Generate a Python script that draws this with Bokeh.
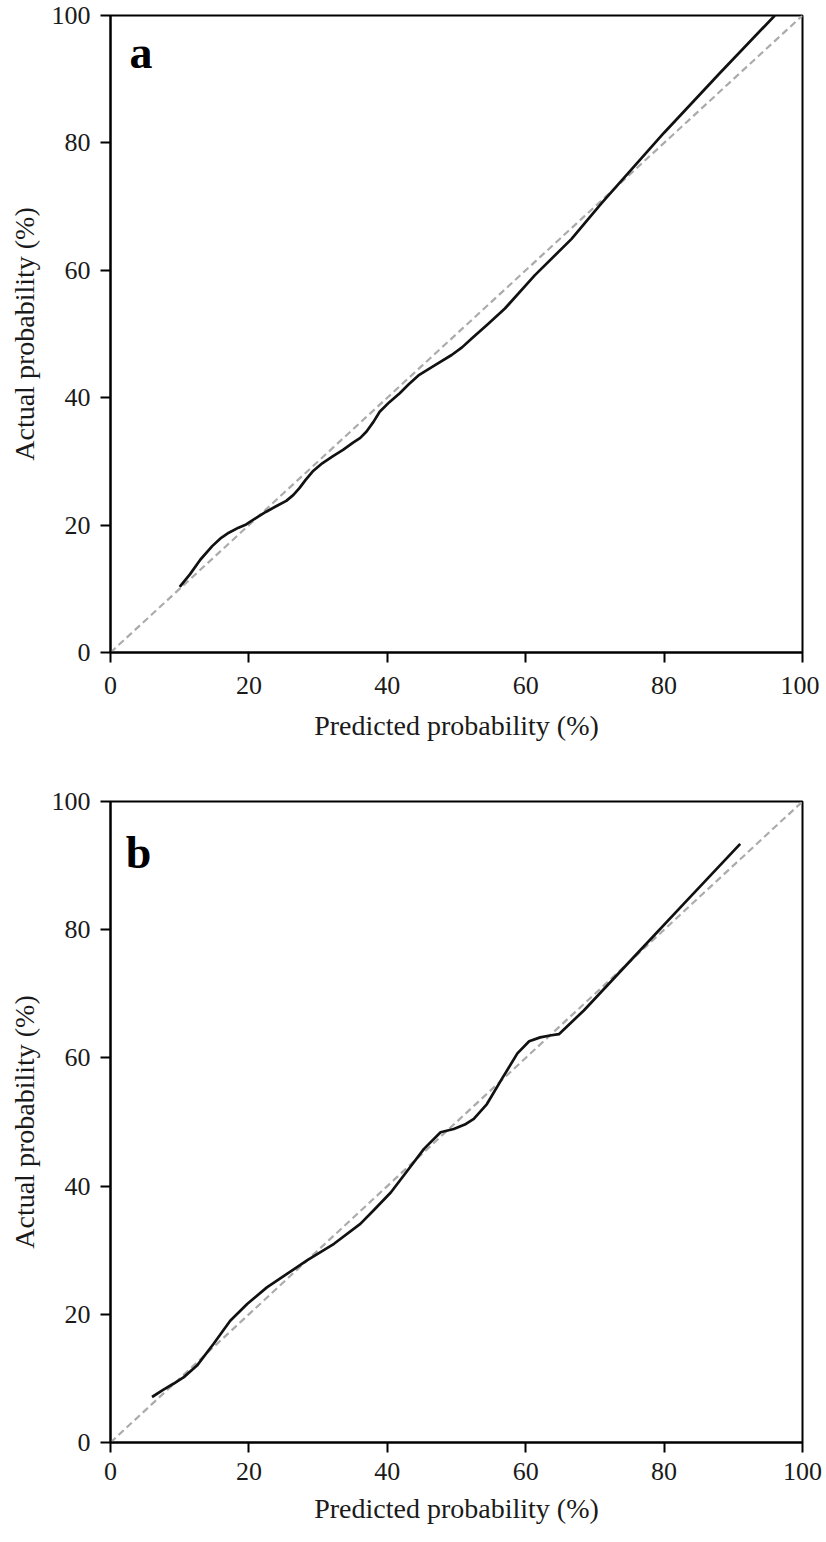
from bokeh.plotting import figure
from bokeh.layouts import column
from bokeh.models import Range1d, FixedTicker, Label
from bokeh.embed import file_html
from bokeh.resources import INLINE

# ---- data ----
pred_a = [10.0, 11.5, 13.0, 14.7, 16.0, 17.1, 18.5, 19.6, 21.0, 22.5, 24.0, 25.4, 26.4,
          27.3, 28.2, 29.2, 30.6, 32.1, 33.6, 35.0, 36.1, 37.0, 38.0, 38.9, 40.3, 41.8,
          43.1, 44.5, 46.9, 49.3, 50.8, 52.2, 54.6, 57.0, 61.3, 66.6, 71.0, 80.0, 88.0, 96.0]
act_a = [10.3, 12.3, 14.6, 16.7, 18.0, 18.8, 19.6, 20.1, 21.1, 22.1, 23.0, 23.8, 24.7,
         25.8, 27.1, 28.4, 29.7, 30.8, 31.8, 32.9, 33.7, 34.7, 36.2, 37.8, 39.3, 40.7,
         42.1, 43.5, 45.1, 46.7, 47.9, 49.3, 51.6, 54.0, 59.2, 64.9, 70.6, 81.6, 90.9, 100.0]

pred_b = [6.0, 7.6, 9.15, 10.6, 12.5, 14.9, 17.3, 19.75, 22.6, 25.5, 28.4, 32.3, 36.1,
          38.0, 40.5, 42.9, 45.3, 47.7, 49.6, 51.2, 52.5, 54.4, 56.6, 58.8, 60.5, 62.1,
          63.5, 64.8, 68.4, 75.6, 82.8, 91.0]
act_b = [7.1, 8.2, 9.2, 10.2, 12.0, 15.4, 19.0, 21.6, 24.2, 26.3, 28.4, 31.0, 34.1,
         36.2, 39.0, 42.4, 45.8, 48.4, 48.9, 49.6, 50.5, 52.8, 56.8, 60.7, 62.6, 63.2,
         63.5, 63.7, 67.4, 75.7, 84.0, 93.4]

ideal = [0, 100]
ticks = [0, 20, 40, 60, 80, 100]
x_title = "Predicted probability (%)"
y_title = "Actual probability (%)"
panel_letters = ["a", "b"]

SERIF = "Liberation Serif"


def make_panel(px, py, letter, letter_x, letter_y, left, top, bottom, fh,
               xl_standoff, xa_standoff):
    p = figure(frame_width=692, frame_height=fh,
               x_range=Range1d(0, 100), y_range=Range1d(0, 100),
               output_backend="svg", toolbar_location=None,
               min_border_left=left, min_border_right=22,
               min_border_top=top, min_border_bottom=bottom,
               background_fill_color="white", border_fill_color="white")
    p.grid.visible = False
    p.outline_line_color = "black"
    p.outline_line_width = 2
    p.outline_line_alpha = 1

    for ax in (p.xaxis[0], p.yaxis[0]):
        ax.ticker = FixedTicker(ticks=ticks)
        ax.minor_tick_line_color = None
        ax.major_tick_out = 10
        ax.major_tick_in = 0
        ax.major_tick_line_width = 2
        ax.major_tick_line_color = "black"
        ax.axis_line_width = 2
        ax.axis_line_color = "black"
        ax.major_label_text_font = SERIF
        ax.major_label_text_font_size = "26px"
        ax.major_label_text_color = "#1a1a1a"
        ax.axis_label_text_font = SERIF
        ax.axis_label_text_font_size = "28px"
        ax.axis_label_text_font_style = "normal"
        ax.axis_label_text_color = "#1a1a1a"
    p.xaxis[0].axis_label = x_title
    p.yaxis[0].axis_label = y_title
    p.xaxis[0].major_label_standoff = xl_standoff
    p.xaxis[0].axis_label_standoff = xa_standoff
    p.yaxis[0].major_label_standoff = 10
    p.yaxis[0].axis_label_standoff = 9

    p.line(ideal, ideal, line_color="#ababab", line_width=2.2, line_dash="7 4")
    p.line(px, py, line_color="#111111", line_width=2.7, line_join="round", line_cap="butt")

    p.add_layout(Label(x=letter_x, y=letter_y, text=letter, text_font=SERIF,
                       text_font_size="46px", text_font_style="bold",
                       text_color="black", text_baseline="alphabetic", text_align="left"))
    return p


pa = make_panel(pred_a, act_a, panel_letters[0], 2.75, 94.2, left=105, top=15, bottom=100,
                fh=637, xl_standoff=14, xa_standoff=13)
pb = make_panel(pred_b, act_b, panel_letters[1], 2.2, 92.0, left=110, top=49, bottom=91,
                fh=641, xl_standoff=10, xa_standoff=10)

layout = column(pa, pb, spacing=0)
open("out.html", "w").write(file_html(layout, INLINE))
